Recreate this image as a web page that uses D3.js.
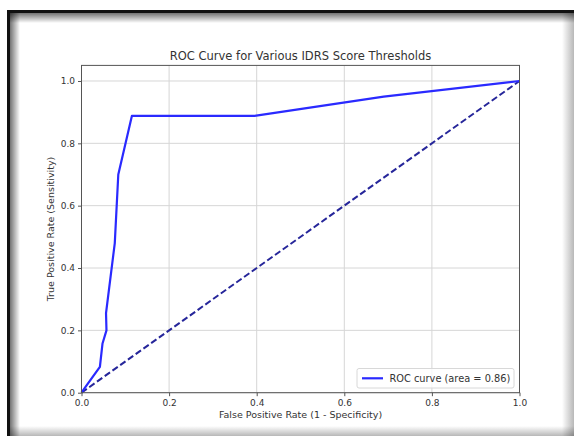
<!DOCTYPE html>
<html>
<head>
<meta charset="utf-8">
<script src="https://cdn.jsdelivr.net/npm/d3@7"></script>
<style>
  html, body { margin: 0; padding: 0; background: #fff; }
  svg { display: block; }
  text { font-family: "DejaVu Sans", sans-serif; fill: #333; }
</style>
</head>
<body>
<svg id="chart" width="574" height="436"></svg>
<script>
// ---- data ----
const rocFpr = [0.0, 0.010, 0.042, 0.048, 0.057, 0.056, 0.076, 0.084, 0.115, 0.395, 0.69, 1.0];
const rocTpr = [0.0, 0.020, 0.083, 0.158, 0.200, 0.255, 0.480, 0.700, 0.888, 0.888, 0.95, 1.0];
const diagX = [0, 1];
const diagY = [0, 1];
const xTicks = [0.0, 0.2, 0.4, 0.6, 0.8, 1.0];
const yTicks = [0.0, 0.2, 0.4, 0.6, 0.8, 1.0];
const titleText = "ROC Curve for Various IDRS Score Thresholds";
const xLabelText = "False Positive Rate (1 - Specificity)";
const yLabelText = "True Positive Rate (Sensitivity)";
const legendText = "ROC curve (area = 0.86)";

(function () {
const svg = d3.select("#chart");
const W = 574, H = 436;

// ---- frame ----
const defs = svg.append("defs");
function grad(id, x1, y1, x2, y2, stops) {
  const gr = defs.append("linearGradient").attr("id", id)
    .attr("x1", x1).attr("y1", y1).attr("x2", x2).attr("y2", y2);
  stops.forEach(s => gr.append("stop").attr("offset", s[0]).attr("stop-color", s[1]).attr("stop-opacity", s[2]));
}
grad("gLeft", "0", "0", "1", "0", [[0, "#000", 0.55], [1, "#000", 0]]);
grad("gTop", "0", "0", "0", "1", [[0, "#000", 0.55], [1, "#000", 0]]);
grad("gRight", "0", "0", "1", "0", [[0, "#000", 0], [1, "#000", 0.28]]);
grad("gBottom", "0", "0", "0", "1", [[0, "#000", 0], [1, "#000", 0.28]]);

svg.append("rect").attr("x", 0).attr("y", 0).attr("width", W).attr("height", H).attr("fill", "#fff");
svg.append("rect").attr("x", 10).attr("y", 13).attr("width", 10).attr("height", H - 13).attr("fill", "url(#gLeft)");
svg.append("rect").attr("x", 10).attr("y", 13).attr("width", W - 10).attr("height", 10).attr("fill", "url(#gTop)");
svg.append("rect").attr("x", W - 12).attr("y", 13).attr("width", 12).attr("height", H - 13).attr("fill", "url(#gRight)");
svg.append("rect").attr("x", 10).attr("y", H - 10).attr("width", W - 10).attr("height", 10).attr("fill", "url(#gBottom)");
svg.append("rect").attr("x", 7).attr("y", 10).attr("width", 3).attr("height", H - 10).attr("fill", "#111");
svg.append("rect").attr("x", 7).attr("y", 10).attr("width", W - 7).attr("height", 3).attr("fill", "#111");

// ---- axes geometry ----
const pL = 81.5, pR = 519.5, pT = 65.4, pB = 392.7;
const x = d3.scaleLinear().domain([0, 1]).range([pL, pR]);
const y = d3.scaleLinear().domain([0, 1.05]).range([pB, pT]);

const g = svg.append("g");

// grid
g.append("g").selectAll("line").data(xTicks).join("line")
  .attr("x1", d => x(d)).attr("x2", d => x(d)).attr("y1", pT).attr("y2", pB)
  .attr("stroke", "#d6d6d6").attr("stroke-width", 1);
g.append("g").selectAll("line").data(yTicks).join("line")
  .attr("x1", pL).attr("x2", pR).attr("y1", d => y(d)).attr("y2", d => y(d))
  .attr("stroke", "#d6d6d6").attr("stroke-width", 1);

// diagonal
const diag = diagX.map((d, i) => [d, diagY[i]]);
const lineGen = d3.line().x(d => x(d[0])).y(d => y(d[1]));
g.append("path").datum(diag).attr("d", lineGen)
  .attr("fill", "none").attr("stroke", "#26269a").attr("stroke-width", 2)
  .attr("stroke-dasharray", "6.5,3");

// ROC
const roc = rocFpr.map((d, i) => [d, rocTpr[i]]);
g.append("path").datum(roc).attr("d", lineGen)
  .attr("fill", "none").attr("stroke", "#2a2aff").attr("stroke-width", 2.2)
  .attr("stroke-linejoin", "round");

// spines
g.append("rect").attr("x", pL).attr("y", pT).attr("width", pR - pL).attr("height", pB - pT)
  .attr("fill", "none").attr("stroke", "#555").attr("stroke-width", 1);

// axes
const xAxis = d3.axisBottom(x).tickValues(xTicks).tickFormat(d3.format(".1f")).tickSize(3.5).tickPadding(3);
const yAxis = d3.axisLeft(y).tickValues(yTicks).tickFormat(d3.format(".1f")).tickSize(3.5).tickPadding(3);
const gx = svg.append("g").attr("transform", `translate(0,${pB})`).call(xAxis);
const gy = svg.append("g").attr("transform", `translate(${pL},0)`).call(yAxis);
[gx, gy].forEach(a => {
  a.select(".domain").remove();
  a.selectAll(".tick line").attr("stroke", "#555");
  a.selectAll(".tick text").attr("font-size", 9).attr("fill", "#444").style("font-family", "DejaVu Sans, sans-serif");
});

// title & labels
svg.append("text").attr("x", (pL + pR) / 2).attr("y", 59.5).attr("text-anchor", "middle")
  .attr("font-size", 11.5).attr("fill", "#333").text(titleText);
svg.append("text").attr("x", (pL + pR) / 2).attr("y", 418).attr("text-anchor", "middle")
  .attr("font-size", 9.5).attr("fill", "#444").text(xLabelText);
svg.append("text").attr("transform", `translate(53.5,${(pT + pB) / 2}) rotate(-90)`).attr("text-anchor", "middle")
  .attr("font-size", 9.5).attr("fill", "#444").text(yLabelText);

// legend
const lg = svg.append("g");
lg.append("rect").attr("x", 357).attr("y", 368.5).attr("width", 157).attr("height", 19.5).attr("rx", 2)
  .attr("fill", "#fff").attr("fill-opacity", 0.8).attr("stroke", "#d8d8d8").attr("stroke-width", 1);
lg.append("line").attr("x1", 362).attr("x2", 383).attr("y1", 378.3).attr("y2", 378.3)
  .attr("stroke", "#2a2aff").attr("stroke-width", 2.2);
lg.append("text").attr("x", 389.5).attr("y", 381.8).attr("font-size", 9.8).attr("fill", "#444").text(legendText);
})();
</script>
</body>
</html>
